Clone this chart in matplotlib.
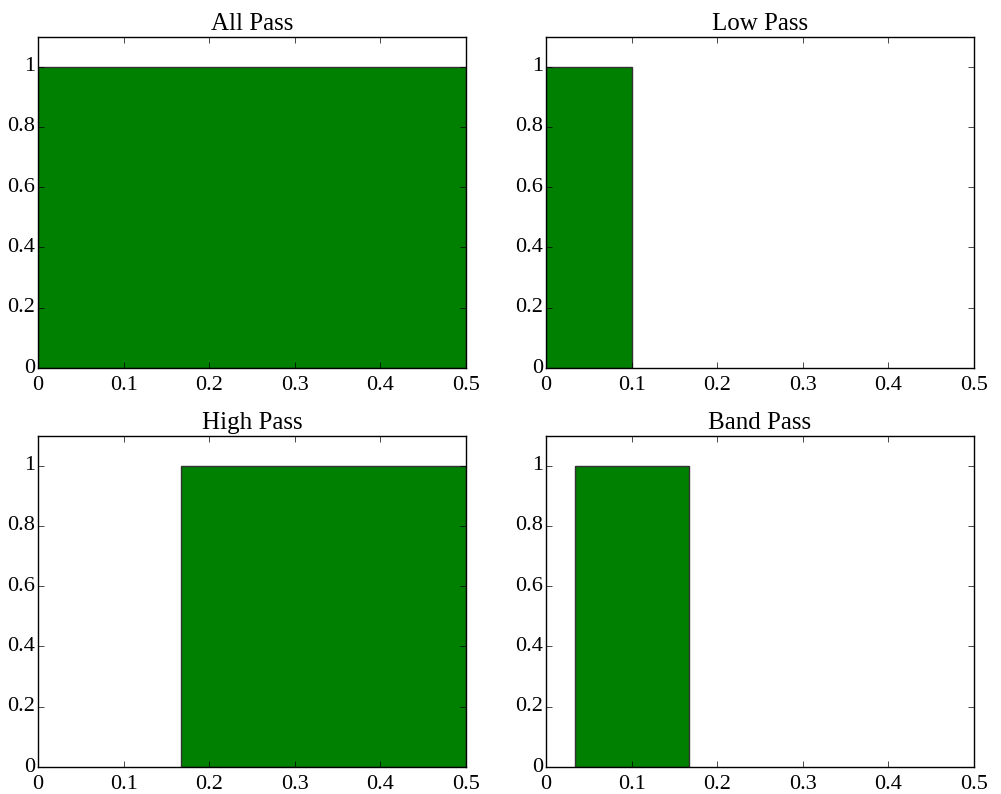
import matplotlib
matplotlib.use('Agg')
import matplotlib.pyplot as plt

titles = ['All Pass', 'Low Pass', 'High Pass', 'Band Pass']
# passband edges (normalised frequency) and gain for each filter
band_lo = [0.0, 0.0, 1.0 / 6, 1.0 / 30]
band_hi = [0.5, 0.1, 0.5, 1.0 / 6]
gain = [1, 1, 1, 1]

plt.style.use('classic')
plt.rcParams['font.family'] = ['Liberation Serif', 'DejaVu Serif']
plt.rcParams['font.size'] = 16

fig = plt.figure(figsize=(10.01, 7.94), dpi=100)
fig.patch.set_facecolor('white')

# axes rectangles in figure fractions
lefts = [0.038, 0.5455, 0.038, 0.5455]
bottoms = [0.5365, 0.5365, 0.034, 0.034]
w = 0.4275
h = 0.4175

for i in range(4):
    ax = fig.add_axes([lefts[i], bottoms[i], w, h])
    ax.bar(band_lo[i], gain[i], band_hi[i] - band_lo[i], align='edge',
           color='green', edgecolor='#333333', linewidth=1)
    ax.set_xlim(0, 0.5)
    ax.set_ylim(0, 1.1)
    ax.set_xticks([0, 0.1, 0.2, 0.3, 0.4, 0.5])
    ax.set_xticklabels(['0', '0.1', '0.2', '0.3', '0.4', '0.5'])
    ax.set_yticks([0, 0.2, 0.4, 0.6, 0.8, 1])
    ax.set_yticklabels(['0', '0.2', '0.4', '0.6', '0.8', '1'])
    ax.tick_params(axis='x', pad=5.5)
    ax.tick_params(axis='y', pad=2)
    ax.set_title(titles[i], fontsize=18, pad=5)

fig.savefig('out.png', dpi=100, facecolor='white')
